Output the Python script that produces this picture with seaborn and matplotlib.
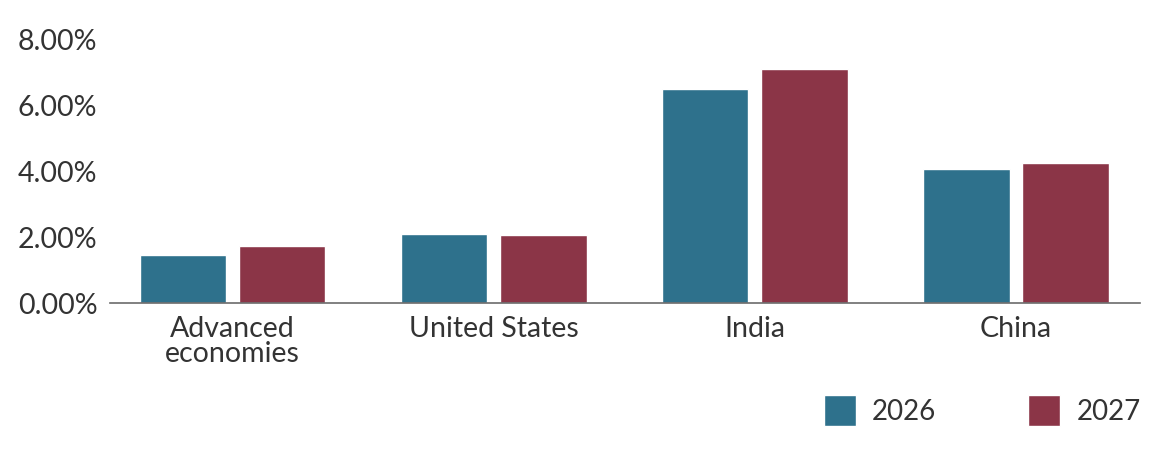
import pandas as pd
import seaborn as sns
import matplotlib.pyplot as plt
from matplotlib.patches import Patch
from matplotlib.ticker import FuncFormatter

# Chart data
regions = ['Advanced\neconomies', 'United States', 'India', 'China']
years = ['2026', '2027']
growth_2026 = [1.45, 2.10, 6.50, 4.07]
growth_2027 = [1.74, 2.05, 7.11, 4.26]
colors = ['#2E718C', '#8B3547']

df = pd.DataFrame({
    'region': regions * 2,
    'year': [years[0]] * len(regions) + [years[1]] * len(regions),
    'growth': growth_2026 + growth_2027,
})

sns.set_theme(style='white')
plt.rcParams['font.family'] = ['Lato', 'DejaVu Sans']
text_color = '#333333'

fig = plt.figure(figsize=(11.66, 4.51), dpi=100)
ax = fig.add_axes([0.0943, 0.328, 0.8834, 0.585])

sns.barplot(data=df, x='region', y='growth', hue='year', palette=colors,
            width=0.76, gap=0.13, ax=ax, legend=False, saturation=1)

ax.set_ylim(0, 8)
ax.set_xlim(-0.47, 3.475)
ax.set_yticks([0, 2, 4, 6, 8])
ax.yaxis.set_major_formatter(FuncFormatter(lambda v, p: f'{v:.2f}%'))
ax.set_xlabel('')
ax.set_ylabel('')

for side in ['top', 'right', 'left']:
    ax.spines[side].set_visible(False)
ax.spines['bottom'].set_color('#6b6b6b')
ax.spines['bottom'].set_linewidth(1.2)

ax.tick_params(axis='y', length=0, pad=9, labelsize=20.5, labelcolor=text_color)
ax.tick_params(axis='x', length=0, pad=9, labelsize=20.5, labelcolor=text_color)
for lbl in ax.get_xticklabels():
    lbl.set_linespacing(0.95)

# Legend bottom right
handles = [Patch(facecolor=c, label=y) for c, y in zip(colors, years)]
leg = fig.legend(handles=handles, loc='lower right', bbox_to_anchor=(1.0, 0.0),
                 ncol=2, frameon=False, fontsize=20, handlelength=1.15,
                 handleheight=1.35, handletextpad=0.6, columnspacing=3.3,
                 labelcolor=text_color)

plt.savefig('out.png', dpi=100)
